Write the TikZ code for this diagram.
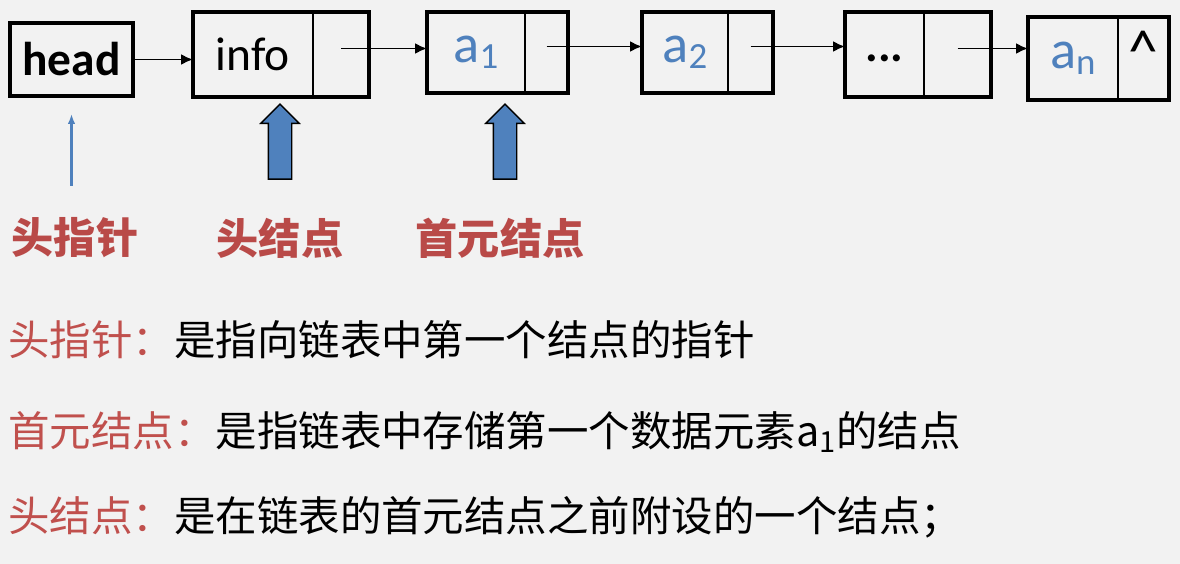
\documentclass[tikz,border=0pt]{standalone}
\usepackage{fontspec}
\setmainfont{Carlito}
\newfontfamily\cjk{Noto Sans CJK SC}
\usepackage{xcolor}
\usepackage{tikz}
\usetikzlibrary{arrows.meta,positioning,shapes.arrows}
\definecolor{bgray}{RGB}{242,242,242}
\definecolor{itemblue}{RGB}{79,129,189}
\definecolor{labred}{RGB}{185,74,72}
\definecolor{termred}{RGB}{192,80,77}
\newcommand\idx[1]{\raisebox{-0.12em}{\fontsize{21}{21}\selectfont #1}}

\begin{document}
\begin{tikzpicture}[x=0.02cm, y=-0.02cm,
            >={Latex[length=2.4mm,width=2.2mm]},
            cell/.style={inner sep=0pt, minimum height=1.66cm, font=\fontsize{27}{27}\selectfont},
            item/.style={cell, text=itemblue, font=\fontsize{31}{31}\selectfont},
            box/.style={line width=2.2pt},
            link/.style={->, line width=1.1pt},
            lbl/.style={font=\cjk\bfseries\fontsize{24}{28}\selectfont, text=labred},
            descline/.style={anchor=west, inner sep=0pt, font=\cjk\fontsize{23.6}{28}\selectfont},
            fat/.style={single arrow, shape border rotate=90, draw=black, line width=0.8pt,
                fill=itemblue, inner sep=0.22cm, single arrow head extend=0.15cm, minimum height=1.5cm}
        ]
            \fill[bgray] (0,0) rectangle (1180,564);
            \useasboundingbox (0,0) rectangle (1180,564);
            % head pointer
            \node[cell, draw, box, minimum width=2.46cm, minimum height=1.46cm,
                font=\bfseries\fontsize{27}{27}\selectfont] (head) at (71.5,59.5) {head};
            % nodes of the list
            \node[cell, anchor=west, minimum width=2.38cm, minimum height=1.7cm] (info) at (193,54.5) {info};
            \node[cell, right=0pt of info, minimum width=1.12cm, minimum height=1.7cm] (info-p) {};
            \node[item, anchor=west, minimum width=1.94cm, minimum height=1.62cm] (a1) at (427,52.5) {a\idx{1}};
            \node[cell, right=0pt of a1, minimum width=0.86cm, minimum height=1.62cm] (a1-p) {};
            \node[item, anchor=west, minimum width=1.70cm, minimum height=1.62cm] (a2) at (642,52.5) {\raisebox{-0.15em}{a\idx{2}}};
            \node[cell, right=0pt of a2, minimum width=0.90cm, minimum height=1.62cm] (a2-p) {};
            \node[cell, anchor=west, minimum width=1.56cm, minimum height=1.7cm] (dots) at (845,54.5) {\raisebox{-0.3em}{\textbf{...}}};
            \node[cell, right=0pt of dots, minimum width=1.34cm, minimum height=1.7cm] (dots-p) {};
            \node[item, anchor=west, minimum width=1.78cm, minimum height=1.66cm] (an) at (1028,58.5) {a\idx{n}\hspace{0.4em}};
            \node[cell, right=0pt of an, minimum width=1.02cm, minimum height=1.66cm,
                font=\fontsize{34}{34}\selectfont] (an-p) {\raisebox{0.25em}{\textasciicircum}};
            \foreach \n in {info,a1,a2,dots,an} {
                \draw[box] (\n.north west) rectangle (\n-p.south east);
                \draw[line width=1pt] (\n-p.north west) -- (\n-p.south west);
            }
            % links
            \draw[link] (head.east) -- (head.east -| info.west);
            \foreach \s/\t in {info/a1, a1/a2, a2/dots, dots/an}
                \draw[link] ([yshift=0.12cm]\s-p.center) -- ([yshift=0.12cm]\s-p.center -| \t.west);
            % labels below
            \node[lbl] (lbl-ptr) at (75,238) {头指针};
            \node[lbl] (lbl-head) at (280,238) {头结点};
            \node[lbl] (lbl-first) at (500,238) {首元结点};
            \draw[->, itemblue, line width=1.3pt, >={Latex[length=2mm,width=1.5mm]},
                shorten <=0.52cm, shorten >=0.32cm] (lbl-ptr.north -| head.south) -- (head.south);
            \node[fat] (up-head) at (280,147.5) {};
            \node[fat] (up-first) at (505,147.5) {};
            % definitions
            \node[descline] (def-ptr) at (8,340)
                {{\color{termred}头指针：}是指向链表中第一个结点的指针};
            \node[descline] (def-first) at (8,432)
                {{\color{termred}首元结点：}是指链表中存储第一个数据元素a\textsubscript{1}的结点};
            \node[descline] (def-head) at (8,517)
                {{\color{termred}头结点：}是在链表的首元结点之前附设的一个结点；};
        \end{tikzpicture}
\end{document}
